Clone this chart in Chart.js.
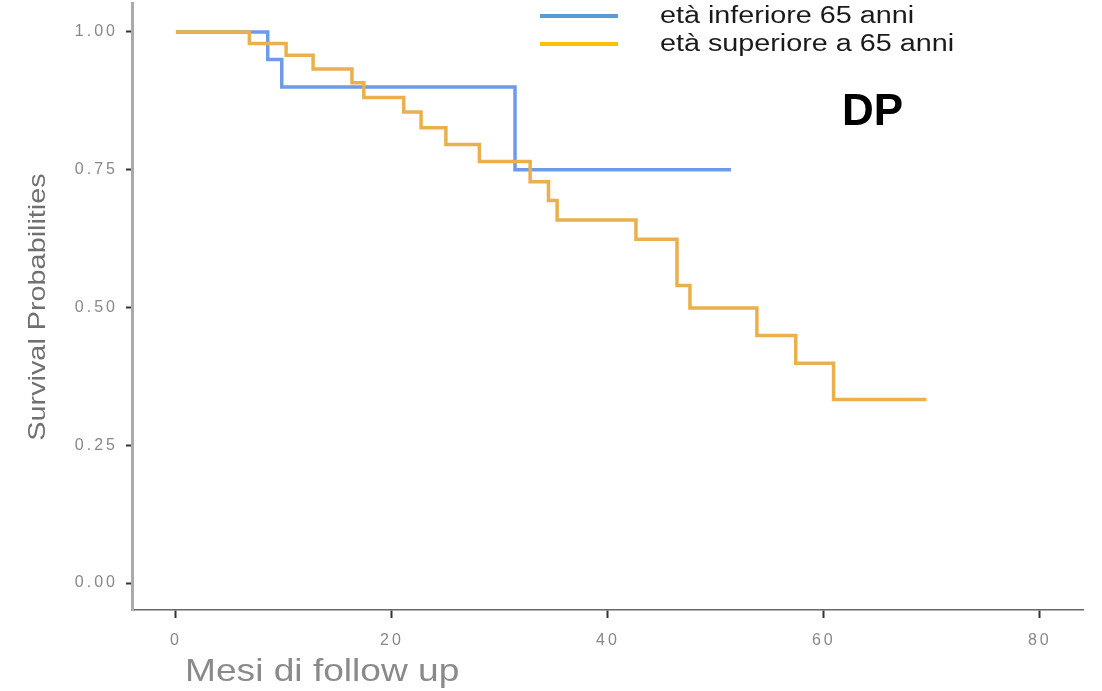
<!DOCTYPE html>
<html>
<head>
<meta charset="utf-8">
<script src="https://cdn.jsdelivr.net/npm/chart.js@4/dist/chart.umd.min.js"></script>
<style>
  body { margin: 0; background: #fff; }
  #wrap { width: 1102px; height: 691px; }
</style>
</head>
<body>
<div id="wrap"><canvas id="kmChart" width="1102" height="691"></canvas></div>
<script>
// Kaplan-Meier, mesi di follow up
const monthsUnder = [0, 8.5, 9.8, 31.4, 51.4];
const survUnder = [1.0, 0.95, 0.90, 0.75, 0.75];

const monthsOver = [0, 6.8, 10.2, 12.7, 16.3, 17.4, 21.1, 22.7, 25.0, 28.1, 32.8, 34.5, 35.3, 42.6, 46.4, 47.6, 53.8, 57.4, 60.9, 69.5];
const survOver = [1.0, 0.979, 0.958, 0.933, 0.908, 0.881, 0.855, 0.826, 0.796, 0.765, 0.728, 0.694, 0.659, 0.624, 0.540, 0.499, 0.449, 0.399, 0.333, 0.333];

const xTicks = [0, 20, 40, 60, 80];
const yTicks = [0, 0.25, 0.5, 0.75, 1.0];

const seriesNames = ['età inferiore 65 anni', 'età superiore a 65 anni'];
const panelLabel = 'DP';
const xTitle = 'Mesi di follow up';
const yTitle = 'Survival Probabilities';

function toPoints(xs, ys) {
  return xs.map((x, i) => ({ x: x, y: ys[i] }));
}

// draws the titles, legend and panel label
const annotations = {
  id: 'annotations',
  beforeDraw(chart) {
    chart.ctx.letterSpacing = '3px';
  },
  afterDraw(chart) {
    const ctx = chart.ctx;
    ctx.save();
    ctx.letterSpacing = '0px';
    ctx.textBaseline = 'middle';

    // legend
    const legendColors = ['#5b9bd5', '#ffc000'];
    const rows = [16, 44];
    rows.forEach((y, i) => {
      ctx.strokeStyle = legendColors[i];
      ctx.lineWidth = 4;
      ctx.beginPath();
      ctx.moveTo(540, y);
      ctx.lineTo(618, y);
      ctx.stroke();
      ctx.save();
      ctx.translate(660, y + 1);
      ctx.scale(1.25, 1);
      ctx.fillStyle = '#1a1a1a';
      ctx.font = '23px "Liberation Sans", Arial, sans-serif';
      ctx.textAlign = 'left';
      ctx.fillText(seriesNames[i], 0, 0);
      ctx.restore();
    });

    // panel label
    ctx.fillStyle = '#000';
    ctx.font = 'bold 44px "Liberation Sans", Arial, sans-serif';
    ctx.textAlign = 'left';
    ctx.fillText(panelLabel, 842, 113);

    // x title
    ctx.save();
    ctx.translate(185, 672);
    ctx.scale(1.16, 1);
    ctx.fillStyle = '#8a8a8a';
    ctx.font = '32px "Liberation Sans", Arial, sans-serif';
    ctx.fillText(xTitle, 0, 0);
    ctx.restore();

    // y title
    ctx.save();
    ctx.translate(38, 307);
    ctx.rotate(-Math.PI / 2);
    ctx.scale(1.2, 1);
    ctx.fillStyle = '#707070';
    ctx.font = '24px "Liberation Sans", Arial, sans-serif';
    ctx.textAlign = 'center';
    ctx.fillText(yTitle, 0, 0);
    ctx.restore();

    ctx.restore();
  }
};

const ctx = document.getElementById('kmChart').getContext('2d');
const chart = new Chart(ctx, {
  type: 'line',
  data: {
    datasets: [
      {
        label: seriesNames[0],
        data: toPoints(monthsUnder, survUnder),
        borderColor: '#6c9be8',
        borderWidth: 3.5,
        stepped: true,
        pointRadius: 0,
        fill: false,
        order: 1
      },
      {
        label: seriesNames[1],
        data: toPoints(monthsOver, survOver),
        borderColor: '#e9b04d',
        borderWidth: 3.5,
        stepped: true,
        pointRadius: 0,
        fill: false,
        order: 0
      }
    ]
  },
  plugins: [annotations],
  options: {
    responsive: false,
    animation: false,
    devicePixelRatio: 1,
    layout: { padding: { left: 0, top: 3, right: 19, bottom: 0 } },
    plugins: {
      legend: { display: false },
      tooltip: { enabled: false }
    },
    scales: {
      x: {
        type: 'linear',
        min: -4.07,
        max: 84.0,
        afterBuildTicks: (s) => { s.ticks = xTicks.map(v => ({ value: v })); },
        afterFit: (s) => { s.height = 81; s.paddingLeft = 0; s.paddingRight = 0; },
        border: { display: true, color: '#666', width: 1.5 },
        grid: {
          drawOnChartArea: false,
          drawTicks: true,
          tickLength: 8,
          tickColor: '#333',
          tickWidth: 2
        },
        ticks: {
          color: '#888',
          padding: 13,
          maxRotation: 0,
          font: { family: '"Liberation Sans", Arial, sans-serif', size: 16 },
          callback: (v) => String(v)
        }
      },
      y: {
        type: 'linear',
        min: -0.049,
        max: 1.0526,
        afterBuildTicks: (s) => { s.ticks = yTicks.map(v => ({ value: v })); },
        afterFit: (s) => { s.width = 132; s.paddingTop = 0; s.paddingBottom = 0; },
        border: { display: true, color: '#aaa', width: 3 },
        grid: {
          drawOnChartArea: false,
          drawTicks: true,
          tickLength: 6,
          tickColor: '#333',
          tickWidth: 2
        },
        ticks: {
          color: '#888',
          padding: 8,
          font: { family: '"Liberation Sans", Arial, sans-serif', size: 16 },
          callback: (v) => v.toFixed(2)
        }
      }
    }
  }
});
</script>
</body>
</html>
